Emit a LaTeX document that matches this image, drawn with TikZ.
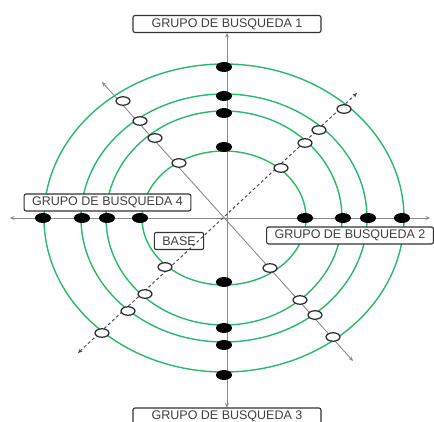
\documentclass[tikz,border=0pt]{standalone}
\usepackage{fontspec}
\setmainfont{Liberation Sans}
\usetikzlibrary{shapes.geometric,arrows.meta}

\definecolor{ringgreen}{RGB}{40,185,105}

\tikzset{
  grupo/.style={draw=black!80, line width=1.1pt, rounded corners=2pt, fill=white,
    text=black!75, font=\fontsize{12.5}{14}\selectfont,
    inner xsep=8pt, inner ysep=0pt, minimum height=17pt},
  ring/.style={ringgreen, line width=1.4pt},
  eje/.style={black!45, line width=0.9pt},
  ejepunteado/.style={black!70, line width=1pt, dash pattern=on 3pt off 2.5pt},
  punta/.tip={Stealth[length=4.5pt, width=4pt]},
  punto/.style={ellipse, fill=black, minimum width=16pt, minimum height=10pt, inner sep=0pt},
  hueco/.style={ellipse, draw=black!85, line width=1.2pt, fill=white,
    minimum width=14pt, minimum height=8.5pt, inner sep=0pt},
}

\begin{document}
\begin{tikzpicture}[x=1pt, y=-1pt]
    \useasboundingbox (0,0) rectangle (434,422);
    \coordinate (c) at (224,218); % centre

    % Green rings
    \foreach \rx/\ry in {82/67, 118/107, 143/124, 180/154}
        \draw[ring] (c) ellipse [x radius=\rx, y radius=\ry];

    % Labels
    \node[grupo, minimum width=188pt] (g1) at (227,24) {GRUPO DE BUSQUEDA 1};
    \node[grupo] (g4) at (107.5,202.5) {GRUPO DE BUSQUEDA 4};
    \node[grupo] (g2) at (350,235.5) {GRUPO DE BUSQUEDA 2};
    \node[grupo, minimum width=188pt] (g3) at (227,416.5) {GRUPO DE BUSQUEDA 3};
    \node[grupo] (base) at (179,241) {BASE};

    % Axes
    \coordinate (oeste) at (10,218);
    \coordinate (este) at (430,218);
    \coordinate (no) at (102,82);
    \coordinate (se) at (353,361);
    \coordinate (so) at (78,353);
    \coordinate (ne) at (357,93);
    \draw[eje, punta-punta] (oeste) -- (este);
    \draw[eje, punta-punta] (g1) -- (g3);
    \draw[eje, punta-punta] (se) -- (no);
    \draw[ejepunteado, punta-punta] (so) -- (ne);

    % Black markers on the axes
    \foreach \x/\y [count=\i] in {224/67, 224/96, 224/113, 224/147,
                                  224/282, 224/328, 224/345, 224/375,
                                  305/218, 343/218, 368/218, 402/218,
                                  43/218, 82/218, 107/218, 140/218}
        \node[punto] (p\i) at (\x,\y) {};

    % Open markers on the diagonals
    \foreach \x/\y [count=\i] in {123/101, 140/121, 155/138, 179/163,
                                  344/109, 319/130, 305/143, 281/168,
                                  270/268, 300/300, 315/315, 333/337,
                                  165/267, 145/294, 128/311, 102/333}
        \node[hueco] (h\i) at (\x,\y) {};
\end{tikzpicture}
\end{document}
